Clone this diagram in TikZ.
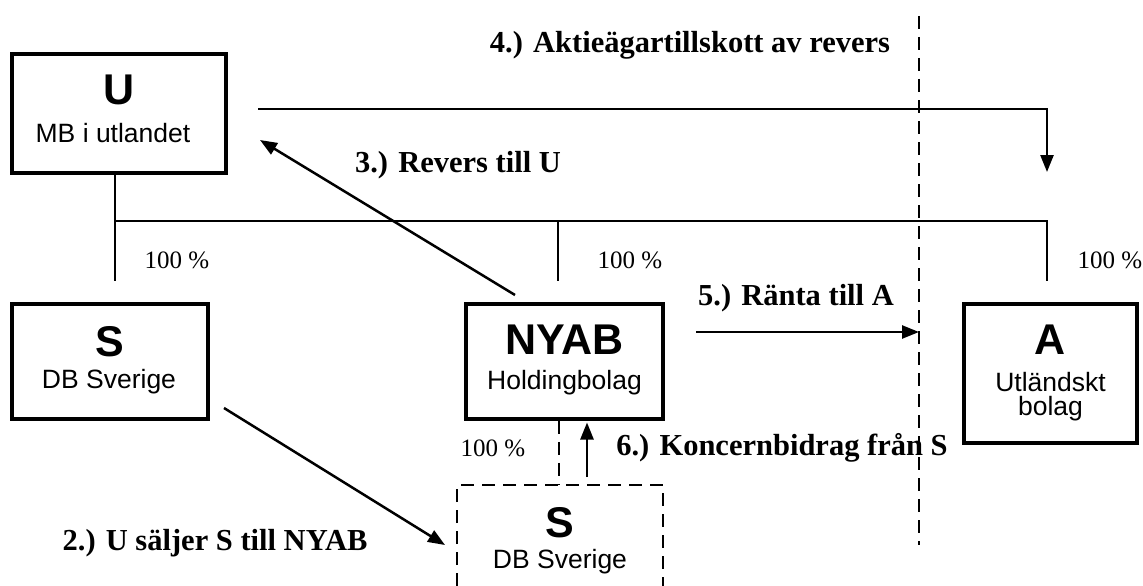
\documentclass[tikz,border=0pt]{standalone}
\usepackage{fontspec}
\setmainfont{Liberation Serif}
\setsansfont{Liberation Sans}
\usetikzlibrary{arrows.meta}
\tikzset{
  box/.style={draw, line width=3.5pt, inner sep=0pt},
  dbox/.style={line width=1.8pt, dash pattern=on 13pt off 8pt},
  own/.style={line width=1.8pt},
  arr/.style={line width=2.5pt, -{Triangle[length=17pt,width=13pt]}},
  bigl/.style={font=\sffamily\bfseries\fontsize{43}{46}\selectfont, inner sep=0pt},
  subl/.style={font=\sffamily\fontsize{26.5}{29}\selectfont, inner sep=0pt},
  lab/.style={font=\bfseries\fontsize{30.5}{32}\selectfont, inner sep=0pt},
  pct/.style={font=\fontsize{25}{27}\selectfont, inner sep=0pt},
}
\begin{document}
\begin{tikzpicture}[x=1pt,y=-1pt]
\useasboundingbox (0,0) rectangle (1143,586);
% boxes
\node[box, minimum width=214pt, minimum height=119pt] (U) at (119,113.5) {};
\node[bigl] (Ut) at (119,90) {U};
\node[subl] (Us) at (113,133) {MB i utlandet};
\node[box, minimum width=196pt, minimum height=115pt] (S) at (110,361.5) {};
\node[bigl] (St) at (110,342) {S};
\node[subl] (Ss) at (109,382) {DB Sverige};
\node[box, minimum width=197pt, minimum height=115pt] (N) at (564.5,361.5) {};
\node[bigl] (Nt) at (564.5,340) {NYAB};
\node[subl] (Ns) at (564.5,383) {Holdingbolag};
\node[box, minimum width=173pt, minimum height=139pt] (A) at (1050.5,373.5) {};
\node[bigl] (At) at (1050.5,340) {A};
\node[subl] (As) at (1050.5,382) {Utländskt};
\node[subl] (As2) at (1050.5,409) {bolag};
% dashed S box (cut off at bottom)
\coordinate (S2bl) at (457,586);
\coordinate (S2tl) at (457,485);
\coordinate (S2tr) at (663,485);
\coordinate (S2br) at (663,586);
\draw[dbox] (S2bl) -- (S2tl) -- (S2tr) -- (S2br);
\node[bigl] (S2t) at (560,523) {S};
\node[subl] (S2s) at (560,562) {DB Sverige};
% ownership lines
\coordinate (o1) at (115,221);
\coordinate (o1b) at (115,281);
\coordinate (o2) at (558,221);
\coordinate (o2b) at (558,281);
\coordinate (o3) at (1047,221);
\coordinate (o3b) at (1047,281);
\draw[own] (U.south -| o1) -- (o1b);
\draw[own] (o1) -- (o3) -- (o3b);
\draw[own] (o2) -- (o2b);
\coordinate (nd) at (559,485);
\draw[dbox] (N.south -| nd) -- (nd);
% percentages
\node[pct] (p1) at (177,260) {100 \%};
\node[pct] (p2) at (630,260) {100 \%};
\node[pct] (p3) at (1110,260) {100 \%};
\node[pct] (p4) at (493,448) {100 \%};
% border line
\coordinate (bt) at (919,16);
\coordinate (bb) at (919,545);
\draw[dbox] (bt) -- (bb);
% arrows
\coordinate (a4s) at (258,109);
\coordinate (a4c) at (1047,109);
\coordinate (a4e) at (1047,172);
\draw[arr] (a4s) -- (a4c) -- (a4e);
\coordinate (a3s) at (515,295);
\coordinate (a3e) at (260,140);
\draw[arr] (a3s) -- (a3e);
\coordinate (a2s) at (224,408);
\coordinate (a2e) at (445,545);
\draw[arr] (a2s) -- (a2e);
\coordinate (a5s) at (696,332);
\draw[arr] (a5s) -- (a5s -| bt);
\coordinate (a6s) at (587,477);
\draw[arr] (a6s) -- ([yshift=-1.75pt]N.south -| a6s);
% labels
\node[lab] (l4) at (690,45) {4.) Aktieägartillskott av revers};
\node[lab] (l3) at (458,165) {3.) Revers till U};
\node[lab] (l5) at (796,298) {5.) Ränta till A};
\node[lab] (l6) at (782,448) {6.) Koncernbidrag från S};
\node[lab] (l2) at (215,543) {2.) U säljer S till NYAB};
\end{tikzpicture}
\end{document}
